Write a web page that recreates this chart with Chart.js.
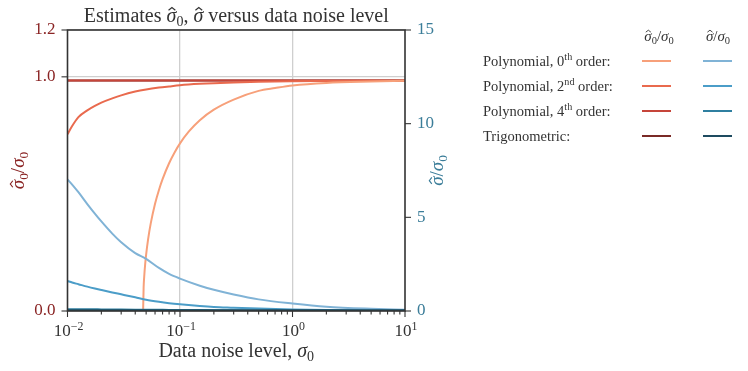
<!DOCTYPE html>
<html>
<head>
<meta charset="utf-8">
<script src="https://cdn.jsdelivr.net/npm/chart.js@4.4.1/dist/chart.umd.min.js"></script>
<style>
  html, body { margin: 0; padding: 0; background: #fff; }
  #wrap { width: 748px; height: 371px; }
</style>
</head>
<body>
<div id="wrap"><canvas id="chart" width="748" height="371"></canvas></div>
<script>
// shared noise levels (sigma_0)
var noise = [0.01, 0.011, 0.0125, 0.015, 0.0175, 0.02, 0.025, 0.03, 0.04, 0.05, 0.065, 0.08, 0.1, 0.15, 0.2, 0.3, 0.5, 1, 2, 5, 10];
// 0th order ratio only exists above ~0.047
var noisePoly0 = [0.047, 0.0475, 0.048, 0.049, 0.05, 0.052, 0.055, 0.06, 0.065, 0.07, 0.08, 0.09, 0.1, 0.12, 0.15, 0.2, 0.3, 0.5, 0.7, 1, 2, 5, 10];

// sigma0_hat / sigma0 (left axis)
var ratioPoly0 = [0, 0.101, 0.142, 0.199, 0.241, 0.305, 0.375, 0.458, 0.517, 0.563, 0.631, 0.679, 0.716, 0.767, 0.815, 0.86, 0.903, 0.94, 0.952, 0.963, 0.974, 0.98, 0.983];
var ratioPoly2 = [0.755, 0.79, 0.828, 0.857, 0.876, 0.89, 0.908, 0.921, 0.937, 0.946, 0.954, 0.959, 0.964, 0.970, 0.973, 0.976, 0.979, 0.981, 0.982, 0.983, 0.983];
var ratioPoly4 = [0.984, 0.984, 0.984, 0.984, 0.984, 0.984, 0.984, 0.984, 0.984, 0.984, 0.984, 0.984, 0.984, 0.984, 0.984, 0.984, 0.984, 0.984, 0.984, 0.984, 0.984];
var ratioTrig  = [0.984, 0.984, 0.984, 0.984, 0.984, 0.984, 0.984, 0.984, 0.984, 0.984, 0.984, 0.984, 0.984, 0.984, 0.984, 0.984, 0.984, 0.984, 0.984, 0.984, 0.984];

// sigma_hat / sigma0 (right axis)
var sigPoly0 = [7.02, 6.75, 6.34, 5.71, 5.2, 4.78, 4.13, 3.67, 3.09, 2.78, 2.3, 1.98, 1.73, 1.35, 1.13, 0.88, 0.62, 0.4, 0.23, 0.12, 0.07];
var sigPoly2 = [1.6, 1.52, 1.43, 1.3, 1.2, 1.12, 0.99, 0.89, 0.73, 0.6, 0.49, 0.42, 0.36, 0.27, 0.22, 0.18, 0.13, 0.08, 0.05, 0.03, 0.02];
var sigPoly4 = [0.1, 0.098, 0.095, 0.092, 0.089, 0.086, 0.082, 0.078, 0.072, 0.068, 0.063, 0.059, 0.055, 0.048, 0.044, 0.038, 0.032, 0.026, 0.022, 0.02, 0.02];
var sigTrig  = [0.04, 0.04, 0.04, 0.04, 0.04, 0.04, 0.04, 0.04, 0.04, 0.04, 0.04, 0.04, 0.04, 0.04, 0.04, 0.04, 0.04, 0.04, 0.04, 0.04, 0.04];

var xMajor = [0.01, 0.1, 1, 10];
var xMajorExp = ["−2", "−1", "0", "1"];
var leftTicks = [0, 1.0, 1.2];
var rightTicks = [0, 5, 10, 15];
var legendRows = [["Polynomial, 0", "th", " order:"], ["Polynomial, 2", "nd", " order:"], ["Polynomial, 4", "th", " order:"], ["Trigonometric:", "", ""]];

var redCols  = ["#f7a07a", "#e96a4e", "#c6453a", "#7a2a26"];
var blueCols = ["#80b3d6", "#4b9dc8", "#2f7fa0", "#1e4b60"];
var red = "#8a2424", teal = "#3b7d99", ink = "#333333";
var SERIF = "'Liberation Serif', 'DejaVu Serif', serif";

function pts(xs, ys) {
  return xs.map(function (x, i) { return {x: x, y: ys[i]}; });
}

function line(data, color, axis) {
  return {
    data: data, borderColor: color, backgroundColor: color, yAxisID: axis,
    borderWidth: 2, pointRadius: 0, cubicInterpolationMode: 'monotone', fill: false
  };
}

var minorVals = [];
[0.01, 0.1, 1].forEach(function (d) {
  for (var k = 1; k <= 9; k++) minorVals.push(+(d * k).toPrecision(3));
});
minorVals.push(10);

// little math typesetter: n normal, i italic, hat (italic with hat), sub, sup
function setFont(c, st, size) {
  var s = (st === 'sub' || st === 'sup') ? size * 0.7 : size;
  var it = (st === 'i' || st === 'hat') ? 'italic ' : '';
  c.font = it + s + "px " + SERIF;
}
function mathWidth(c, segs, size) {
  var w = 0;
  segs.forEach(function (g) { setFont(c, g[1], size); w += c.measureText(g[0]).width; });
  return w;
}
function drawMath(c, segs, x, y, size, align) {
  var w = mathWidth(c, segs, size);
  var cx = align === 'center' ? x - w / 2 : (align === 'right' ? x - w : x);
  c.textAlign = 'left'; c.textBaseline = 'alphabetic';
  segs.forEach(function (g) {
    setFont(c, g[1], size);
    var dy = g[1] === 'sub' ? size * 0.22 : (g[1] === 'sup' ? -size * 0.38 : 0);
    var gw = c.measureText(g[0]).width;
    c.fillText(g[0], cx, y + dy);
    if (g[1] === 'hat') {
      var mx = cx + gw * 0.55, top = y - size * 0.68;
      c.save();
      c.strokeStyle = c.fillStyle; c.lineWidth = size * 0.06;
      c.beginPath();
      c.moveTo(mx - size * 0.17, top + size * 0.09);
      c.lineTo(mx, top - size * 0.04);
      c.lineTo(mx + size * 0.17, top + size * 0.09);
      c.stroke();
      c.restore();
    }
    cx += gw;
  });
}

var decor = {
  id: 'decor',
  afterDraw: function (chart) {
    var c = chart.ctx, a = chart.chartArea;
    var sx = chart.scales.x, sy = chart.scales.y, sy2 = chart.scales.y2;
    c.save();
    // frame
    c.strokeStyle = ink; c.lineWidth = 1.6;
    c.strokeRect(a.left, a.top, a.right - a.left, a.bottom - a.top);
    // tick marks
    c.lineWidth = 1.1;
    minorVals.forEach(function (v) {
      var px = sx.getPixelForValue(v);
      var len = xMajor.indexOf(v) >= 0 ? 6 : 3.5;
      c.beginPath(); c.moveTo(px, a.bottom); c.lineTo(px, a.bottom + len); c.stroke();
    });
    leftTicks.forEach(function (v) {
      var py = sy.getPixelForValue(v);
      c.beginPath(); c.moveTo(a.left, py); c.lineTo(a.left - 6, py); c.stroke();
    });
    rightTicks.forEach(function (v) {
      var py = sy2.getPixelForValue(v);
      c.beginPath(); c.moveTo(a.right, py); c.lineTo(a.right + 6, py); c.stroke();
    });
    // x tick labels 10^n
    c.fillStyle = ink;
    xMajor.forEach(function (v, i) {
      drawMath(c, [["10", 'n'], [xMajorExp[i], 'sup']], sx.getPixelForValue(v) + 1, 336, 17, 'center');
    });
    // titles
    var cx = (a.left + a.right) / 2;
    drawMath(c, [["Estimates ", 'n'], ["σ", 'hat'], ["0", 'sub'], [", ", 'n'], ["σ", 'hat'], [" versus data noise level", 'n']], cx, 22, 20, 'center');
    drawMath(c, [["Data noise level, ", 'n'], ["σ", 'i'], ["0", 'sub']], cx, 357, 20, 'center');
    var cy = (a.top + a.bottom) / 2;
    c.save();
    c.translate(24, cy); c.rotate(-Math.PI / 2);
    c.fillStyle = red;
    drawMath(c, [["σ", 'hat'], ["0", 'sub'], ["/", 'n'], ["σ", 'i'], ["0", 'sub']], 0, 0, 19, 'center');
    c.restore();
    c.save();
    c.translate(443, cy); c.rotate(-Math.PI / 2);
    c.fillStyle = teal;
    drawMath(c, [["σ", 'hat'], ["/", 'n'], ["σ", 'i'], ["0", 'sub']], 0, 0, 19, 'center');
    c.restore();
    // legend
    c.fillStyle = ink;
    drawMath(c, [["σ", 'hat'], ["0", 'sub'], ["/", 'n'], ["σ", 'i'], ["0", 'sub']], 659, 41, 15, 'center');
    drawMath(c, [["σ", 'hat'], ["/", 'n'], ["σ", 'i'], ["0", 'sub']], 718, 41, 15, 'center');
    legendRows.forEach(function (r, i) {
      var y = 61 + i * 25;
      c.fillStyle = ink;
      drawMath(c, [[r[0], 'n'], [r[1], 'sup'], [r[2], 'n']], 483, y + 5, 14.5, 'left');
      c.lineWidth = 2;
      c.strokeStyle = redCols[i];
      c.beginPath(); c.moveTo(642, y); c.lineTo(671, y); c.stroke();
      c.strokeStyle = blueCols[i];
      c.beginPath(); c.moveTo(703, y); c.lineTo(732, y); c.stroke();
    });
    c.restore();
  }
};

new Chart(document.getElementById("chart").getContext("2d"), {
  type: 'line',
  data: {
    datasets: [
      line(pts(noise, sigTrig), blueCols[3], 'y2'),
      line(pts(noise, sigPoly4), blueCols[2], 'y2'),
      line(pts(noise, sigPoly2), blueCols[1], 'y2'),
      line(pts(noise, sigPoly0), blueCols[0], 'y2'),
      line(pts(noisePoly0, ratioPoly0), redCols[0], 'y'),
      line(pts(noise, ratioPoly2), redCols[1], 'y'),
      line(pts(noise, ratioPoly4), redCols[2], 'y'),
      line(pts(noise, ratioTrig), redCols[3], 'y')
    ]
  },
  options: {
    responsive: false,
    animation: false,
    maintainAspectRatio: false,
    layout: { padding: { top: 30, right: 283, left: 0, bottom: 0 } },
    plugins: { legend: { display: false }, title: { display: false }, tooltip: { enabled: false } },
    scales: {
      x: {
        type: 'logarithmic', min: 0.01, max: 10, position: 'bottom',
        afterBuildTicks: function (s) { s.ticks = minorVals.map(function (v) { return {value: v}; }); },
        afterFit: function (s) { s.height = 60; },
        border: { display: false },
        grid: {
          drawTicks: false, lineWidth: 1.3,
          color: function (ctx) { var v = ctx.tick && ctx.tick.value; return (v === 0.1 || v === 1) ? '#cfcfcf' : 'rgba(0,0,0,0)'; }
        },
        ticks: { display: false }
      },
      y: {
        position: 'left', min: 0, max: 1.2,
        afterBuildTicks: function (s) { s.ticks = leftTicks.map(function (v) { return {value: v}; }); },
        afterFit: function (s) { s.width = 67.5; },
        border: { display: false },
        grid: { drawTicks: false, color: '#cfcfcf', lineWidth: 1.3 },
        ticks: {
          padding: 12, color: red, font: { size: 17, family: SERIF },
          callback: function (v) { return v.toFixed(1); }
        }
      },
      y2: {
        position: 'right', min: 0, max: 15,
        afterBuildTicks: function (s) { s.ticks = rightTicks.map(function (v) { return {value: v}; }); },
        afterFit: function (s) { s.width = 60; },
        border: { display: false },
        grid: { display: false, drawTicks: false },
        ticks: { padding: 12, color: teal, font: { size: 17, family: SERIF } }
      }
    }
  },
  plugins: [decor]
});
</script>
</body>
</html>
